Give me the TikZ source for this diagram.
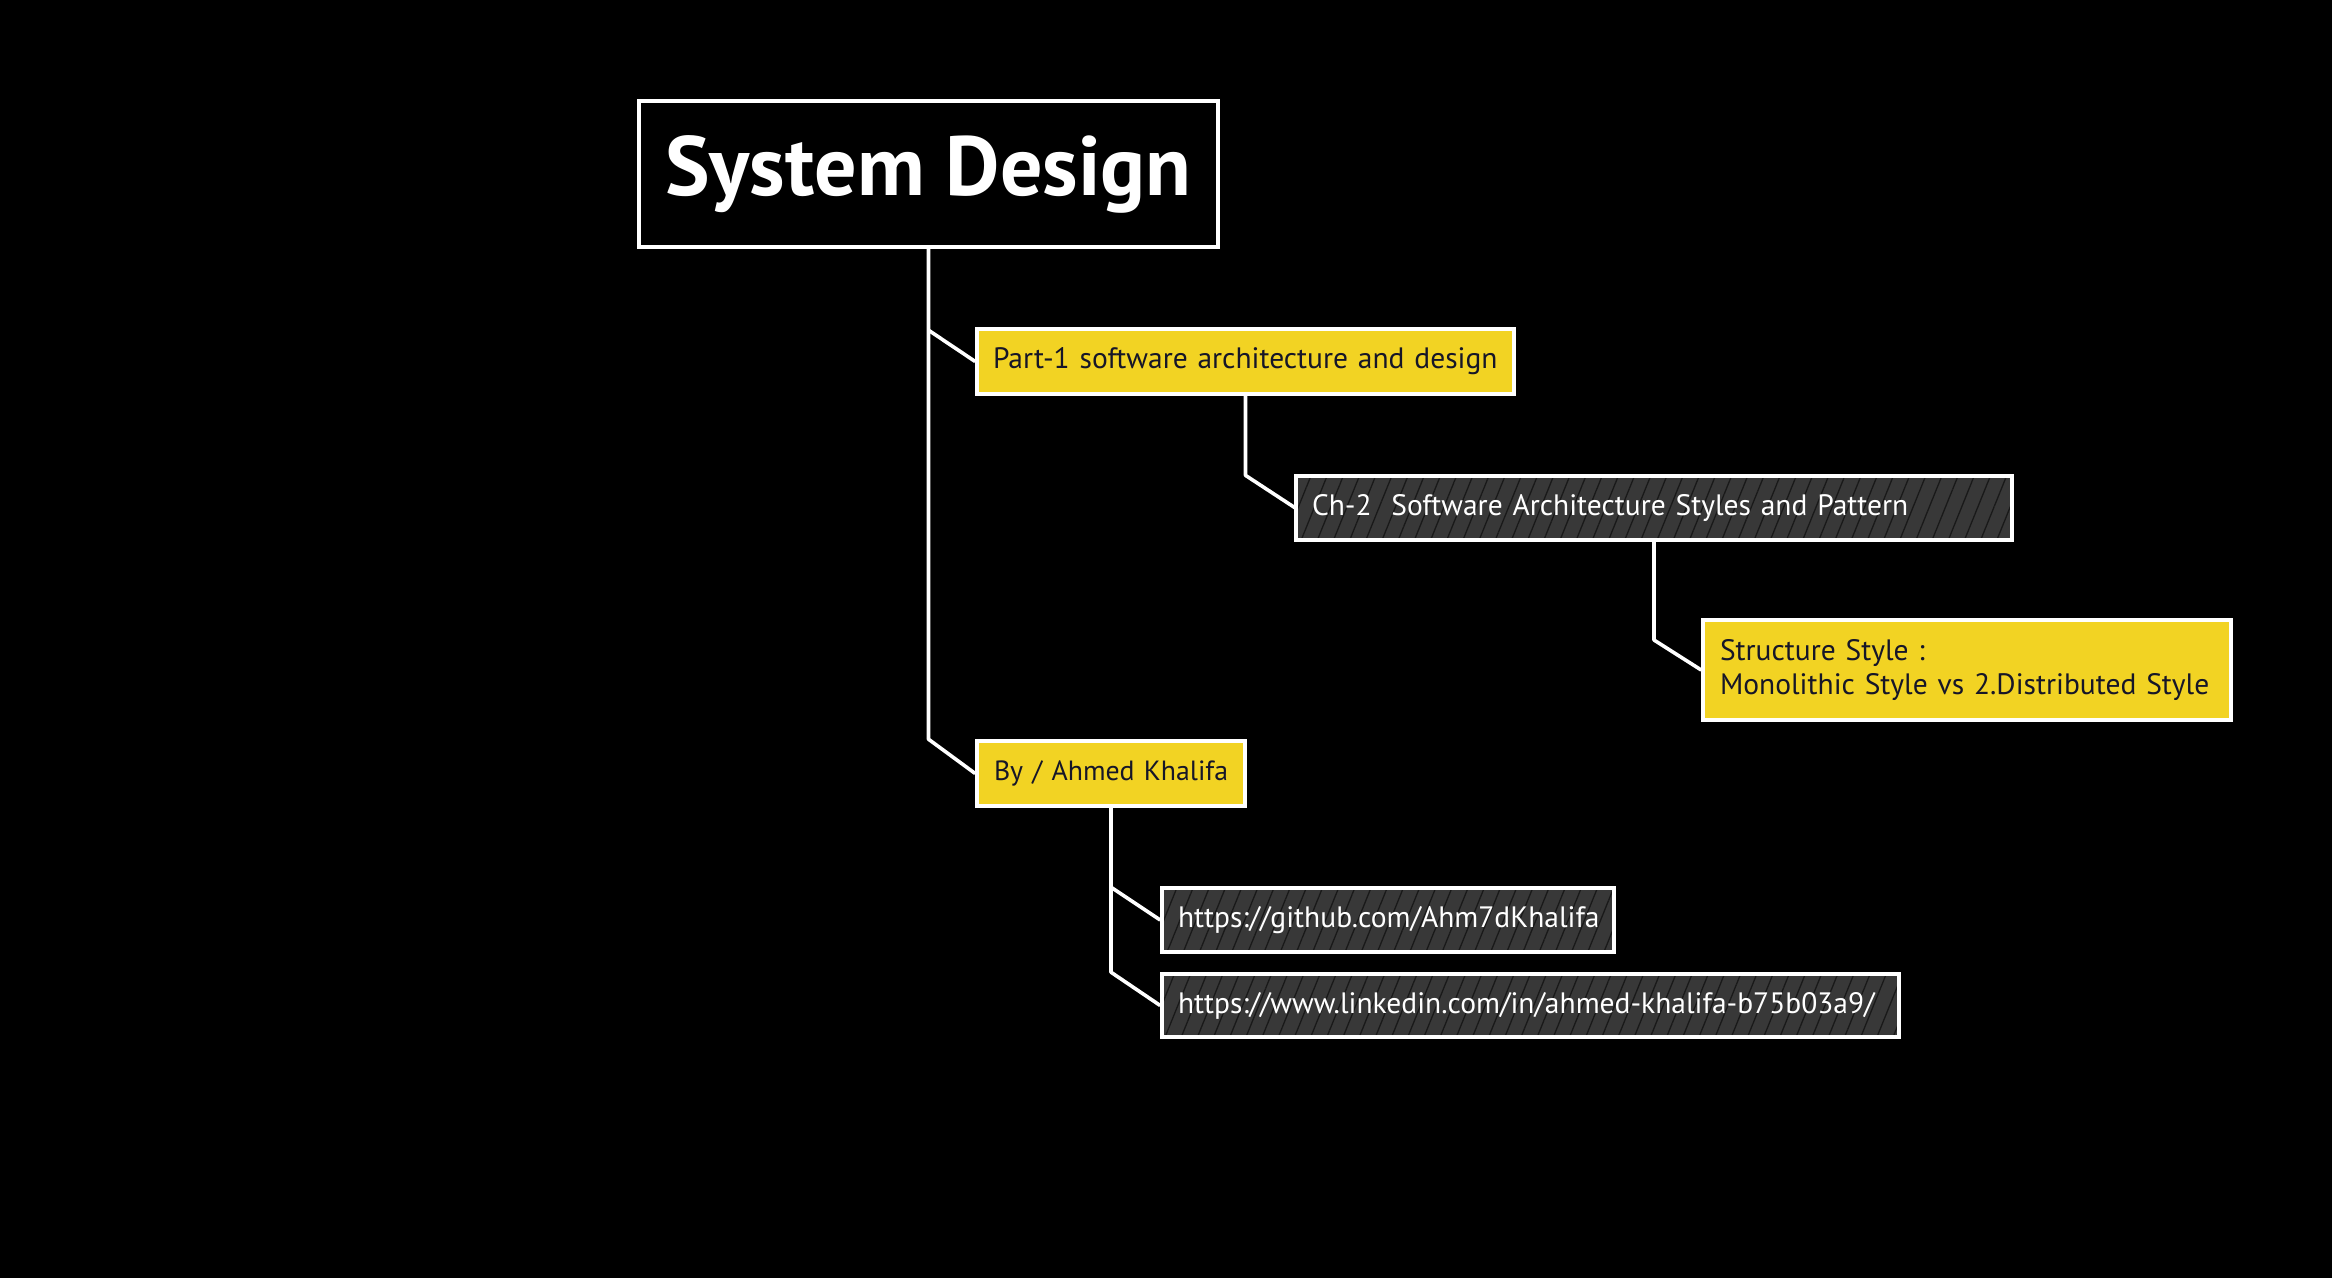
\documentclass[tikz,border=0pt]{standalone}
\usepackage{fontspec}
\setmainfont{PT Sans}
\usetikzlibrary{patterns.meta}
\definecolor{yel}{RGB}{242,211,35}
\definecolor{ink}{RGB}{22,22,40}
\definecolor{dk}{RGB}{56,56,56}
\begin{document}
\begin{tikzpicture}[x=1pt,y=-1pt,
  box/.style={draw=white,line width=3.6pt,inner xsep=16pt,inner ysep=0pt,align=left,font=\fontsize{29.5}{34}\selectfont},
  ybox/.style={box,fill=yel,text=ink},
  gbox/.style={box,text=white,preaction={fill=dk},pattern={Lines[angle=68,distance=15pt,line width=1.3pt]},pattern color=black!90},
  conn/.style={draw=white,line width=3.6pt,line join=round}]
\fill[black] (0,0) rectangle (2332,1278);
\useasboundingbox (0,0) rectangle (2332,1278);
\node[draw=white,line width=4pt,minimum width=579pt,minimum height=146pt,text=white,font=\fontsize{84}{96}\bfseries\selectfont] (title) at (928.5,174) {System Design};
\node[ybox,minimum width=537pt,minimum height=65pt,text width=505pt] (part) at (1245.5,361.5) {Part-1 software architecture and design};
\node[gbox,minimum width=714pt,minimum height=64pt,text width=684pt] (ch) at (1654,508) {Ch-2\ \ Software Architecture Styles and Pattern};
\node[ybox,minimum width=528pt,minimum height=100pt,text width=494pt,inner xsep=17pt] (st) at (1967,670) {Structure Style :\\Monolithic Style vs 2.Distributed Style};
\node[ybox,minimum width=268pt,minimum height=65pt,text width=234pt,inner xsep=17pt,font=\fontsize{27.8}{32}\selectfont] (by) at (1111,773.5) {\mbox{By / Ahmed Khalifa}};
\node[gbox,minimum width=452pt,minimum height=64pt,text width=420pt] (gh) at (1388,920) {https://github.com/Ahm7dKhalifa};
\node[gbox,minimum width=737pt,minimum height=63pt,text width=705pt] (li) at (1530.5,1005.5) {https://www.linkedin.com/in/ahmed-khalifa-b75b03a9/};
\draw[conn] (title.south) -- (title.south |- by.north) -- (by.west);
\draw[conn] ([yshift=-3pt]title.south |- part.north) -- (part.west);
\draw[conn] (part.south) -- (part.south |- ch.north) -- (ch.west);
\draw[conn] (ch.south) -- ([yshift=30pt]ch.south |- st.west) -- (st.west);
\draw[conn] (by.south) -- (by.south |- li.north) -- (li.west);
\draw[conn] ([yshift=-1pt]by.south |- gh.north) -- (gh.west);
\end{tikzpicture}
\end{document}
